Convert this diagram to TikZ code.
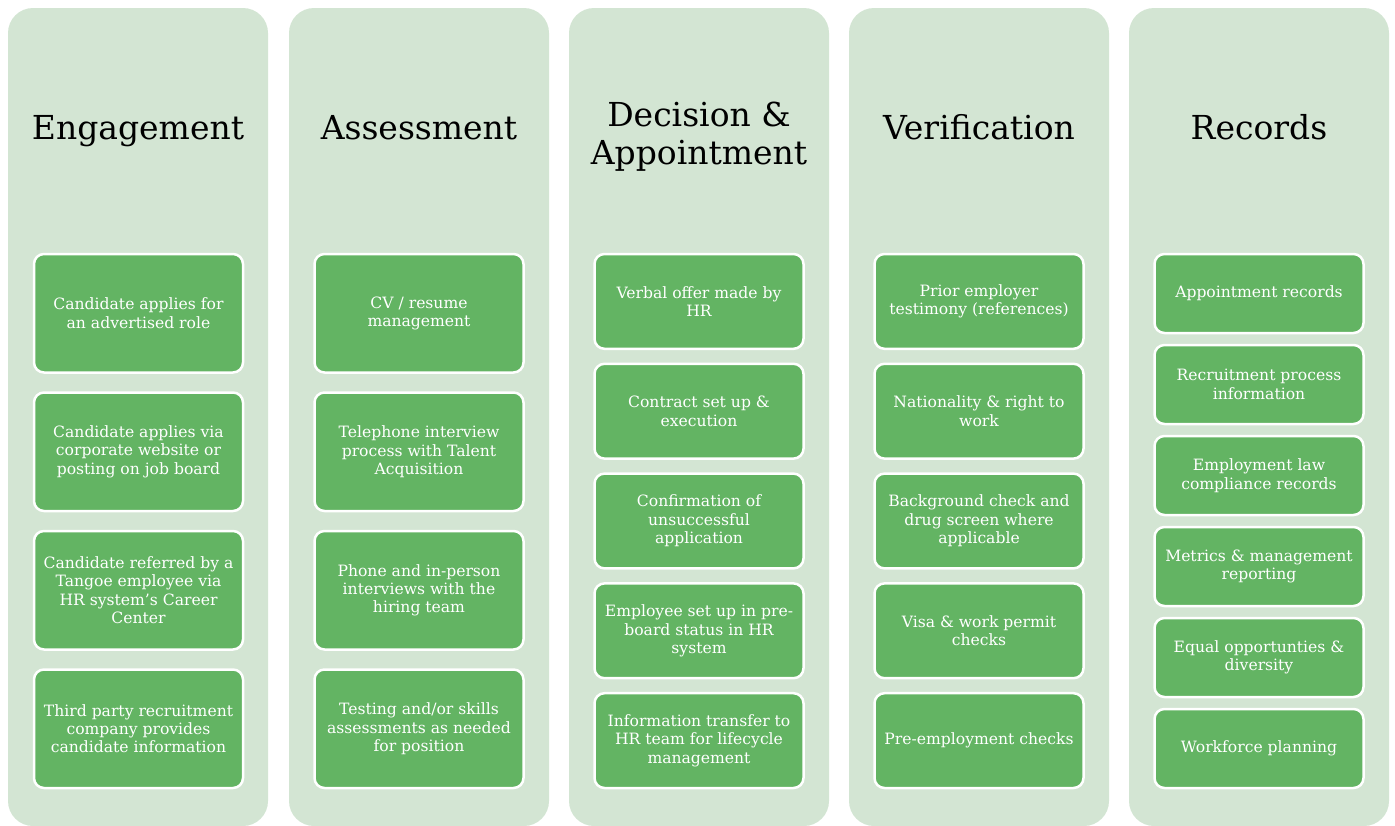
\documentclass[tikz,border=0pt]{standalone}
\usepackage{fontspec}
\setmainfont{DejaVu Serif}
\usepackage{tikz}
\usetikzlibrary{positioning}

\definecolor{panelgreen}{RGB}{211,229,211}
\definecolor{taskgreen}{RGB}{99,180,99}

\tikzset{
    panel/.style={fill=panelgreen, draw=none, rounded corners=25},
    stage/.style={anchor=base, align=center, font=\fontsize{33}{37.3}\selectfont},
    task/.style={draw=white, line width=2.5, fill=taskgreen, rounded corners=10,
        text=white, align=center, inner sep=0pt, minimum width=209,
        font=\fontsize{15.6}{18.4}\selectfont}
}

\begin{document}
\begin{tikzpicture}[x=1pt, y=-1pt]
        \useasboundingbox (0, 0) rectangle (1395, 825);
        % Engagement
        \fill[panel] (8, 8) rectangle (268, 826);
        \node[stage] (engagement) at (138, 139) {Engagement};
        \foreach \txt [count=\i] in {{Candidate applies for\\an advertised role},
            {Candidate applies via\\corporate website or\\posting on job board},
            {Candidate referred by a\\Tangoe employee via\\HR system's Career\\Center},
            {Third party recruitment\\company provides\\candidate information}}
            { \node[task, minimum height=118.5] (eng\i) at (138.5, {313.25+(\i-1)*138.5}) {\txt}; }

        % Assessment
        \fill[panel] (289, 8) rectangle (549, 826);
        \node[stage] (assessment) at (419, 139) {Assessment};
        \foreach \txt [count=\i] in {{CV / resume\\management},
            {Telephone interview\\process with Talent\\Acquisition},
            {Phone and in-person\\interviews with the\\hiring team},
            {Testing and/or skills\\assessments as needed\\for position}}
            { \node[task, minimum height=118.5] (ass\i) at (419, {313.25+(\i-1)*138.5}) {\txt}; }

        % Decision & Appointment (base sits on the last line)
        \fill[panel] (569, 8) rectangle (829, 826);
        \node[stage] (decision) at (699, 164) {Decision \&\\Appointment};
        \foreach \txt [count=\i] in {{Verbal offer made by\\HR},
            {Contract set up \&\\execution},
            {Confirmation of\\unsuccessful\\application},
            {Employee set up in pre-\\board status in HR\\system},
            {Information transfer to\\HR team for lifecycle\\management}}
            { \node[task, minimum height=94.8] (dec\i) at (699, {301.4+(\i-1)*109.8}) {\txt}; }

        % Verification
        \fill[panel] (849, 8) rectangle (1109, 826);
        \node[stage] (verification) at (979, 139) {Verification};
        \foreach \txt [count=\i] in {{Prior employer\\testimony (references)},
            {Nationality \& right to\\work},
            {Background check and\\drug screen where\\applicable},
            {Visa \& work permit\\checks},
            {Pre-employment checks}}
            { \node[task, minimum height=94.8] (ver\i) at (979, {301.4+(\i-1)*109.8}) {\txt}; }

        % Records
        \fill[panel] (1129, 8) rectangle (1389, 826);
        \node[stage] (records) at (1259, 139) {Records};
        \foreach \txt [count=\i] in {{Appointment records},
            {Recruitment process\\information},
            {Employment law\\compliance records},
            {Metrics \& management\\reporting},
            {Equal opportunties \&\\diversity},
            {Workforce planning}}
            { \node[task, minimum height=79] (rec\i) at (1259, {293.5+(\i-1)*91}) {\txt}; }
    \end{tikzpicture}
\end{document}
